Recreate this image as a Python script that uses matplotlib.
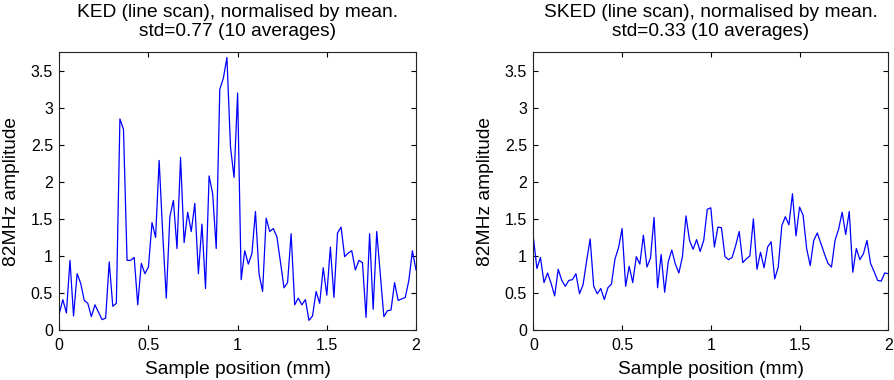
import numpy as np
import matplotlib
matplotlib.use("Agg")
import matplotlib.pyplot as plt

plt.rcParams['font.family'] = ['Liberation Sans', 'DejaVu Sans']

step_mm = 0.02
ked_values = [0.22, 0.41, 0.23, 0.94, 0.19, 0.76, 0.63, 0.40, 0.36, 0.18,
              0.34, 0.24, 0.14, 0.16, 0.92, 0.32, 0.36, 2.85, 2.71, 0.94,
              0.94, 0.98, 0.34, 0.90, 0.76, 0.85, 1.45, 1.25, 2.29, 1.30,
              0.43, 1.53, 1.75, 1.10, 2.33, 1.18, 1.59, 1.33, 1.71, 0.76,
              1.43, 0.56, 2.08, 1.84, 1.10, 3.25, 3.40, 3.68, 2.47, 2.06,
              3.20, 0.68, 1.07, 0.89, 1.03, 1.60, 0.76, 0.52, 1.51, 1.33,
              1.37, 1.26, 0.92, 0.57, 0.64, 1.30, 0.34, 0.43, 0.34, 0.41,
              0.13, 0.19, 0.52, 0.36, 0.84, 0.47, 1.12, 0.44, 1.31, 1.39,
              0.99, 1.04, 1.07, 0.81, 0.94, 0.91, 0.17, 1.30, 0.28, 1.33,
              0.75, 0.18, 0.26, 0.27, 0.64, 0.40, 0.42, 0.44, 0.67, 1.07,
              0.81]
sked_values = [1.25, 0.83, 0.98, 0.64, 0.77, 0.63, 0.46, 0.82, 0.67, 0.59,
               0.67, 0.68, 0.76, 0.49, 0.61, 0.93, 1.23, 0.59, 0.49, 0.56,
               0.41, 0.57, 0.62, 0.96, 1.11, 1.37, 0.59, 0.86, 0.64, 0.99,
               0.89, 1.28, 0.85, 0.97, 1.52, 0.57, 1.02, 0.51, 0.92, 1.08,
               0.89, 0.77, 0.99, 1.54, 1.21, 1.09, 1.22, 1.06, 1.21, 1.63,
               1.65, 1.12, 1.39, 1.38, 0.99, 0.95, 0.98, 1.14, 1.33, 0.91,
               0.96, 1.00, 1.50, 0.82, 1.05, 0.84, 1.12, 1.19, 0.69, 0.85,
               1.41, 1.53, 1.42, 1.84, 1.27, 1.66, 1.55, 1.10, 0.87, 1.21,
               1.31, 1.17, 1.03, 0.90, 0.85, 1.21, 1.36, 1.59, 1.29, 1.60,
               0.78, 1.10, 0.95, 1.03, 1.21, 0.90, 0.79, 0.67, 0.66, 0.77,
               0.76]
titles = ["KED (line scan), normalised by mean.\nstd=0.77 (10 averages)",
          "SKED (line scan), normalised by mean.\nstd=0.33 (10 averages)"]
xlabel = "Sample position (mm)"
ylabel = "82MHz amplitude"
xticks = [0, 0.5, 1, 1.5, 2]
xticklabels = ["0", "0.5", "1", "1.5", "2"]
yticks = [0, 0.5, 1, 1.5, 2, 2.5, 3, 3.5]
yticklabels = ["0", "0.5", "1", "1.5", "2", "2.5", "3", "3.5"]

fig = plt.figure(figsize=(8.94, 3.8), dpi=100)
axes_rects = [[0.0663, 0.1316, 0.399, 0.7308],
              [0.5966, 0.1316, 0.397, 0.7308]]
fs_tick = 11.5
fs_text = 13.8
for rect, vals, title in zip(axes_rects, [ked_values, sked_values], titles):
    ax = fig.add_axes(rect)
    x = np.arange(len(vals)) * step_mm
    ax.plot(x, vals, color=(0, 0, 1), lw=0.9)
    ax.set_xlim(0, 2)
    ax.set_ylim(0, 3.75)
    ax.set_xticks(xticks)
    ax.set_xticklabels(xticklabels)
    ax.set_yticks(yticks)
    ax.set_yticklabels(yticklabels)
    ax.tick_params(direction='in', top=True, right=True, length=3.5,
                   width=0.8, labelsize=fs_tick, colors='black')
    ax.tick_params(axis='x', pad=5.5)
    ax.tick_params(axis='y', pad=4.5)
    for s in ax.spines.values():
        s.set_linewidth(0.8)
        s.set_color('#222222')
    ax.set_title(title, fontsize=fs_text, linespacing=1.15, pad=11.5)
    ax.set_xlabel(xlabel, fontsize=fs_text, labelpad=6)
    ax.set_ylabel(ylabel, fontsize=fs_text, labelpad=8)

fig.savefig("out.png", dpi=100)
